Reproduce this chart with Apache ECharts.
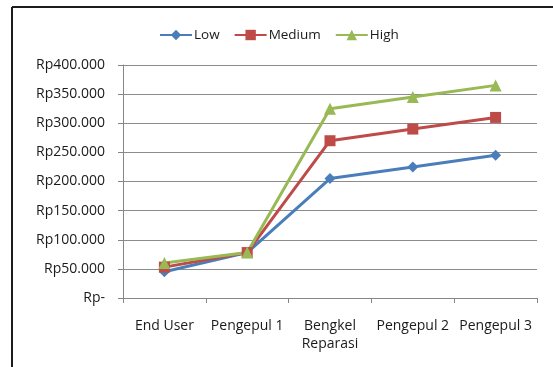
<!DOCTYPE html>
<html>
<head>
<meta charset="utf-8">
<script src="https://cdn.jsdelivr.net/npm/echarts@6/dist/echarts.min.js"></script>
<style>
html,body{margin:0;padding:0;background:#fff;}
#chart{width:553px;height:367px;}
</style>
</head>
<body>
<div id="chart"></div>
<script>
var categories = ["End User", "Pengepul 1", "Bengkel\nReparasi", "Pengepul 2", "Pengepul 3"];
var lowValues = [45000, 78000, 205000, 225000, 245000];
var mediumValues = [53000, 78000, 270000, 290000, 310000];
var highValues = [60000, 78000, 325000, 345000, 365000];
var yTickValues = [0, 50000, 100000, 150000, 200000, 250000, 300000, 350000, 400000];
var yTickLabels = ["Rp-", "Rp50.000", "Rp100.000", "Rp150.000", "Rp200.000", "Rp250.000", "Rp300.000", "Rp350.000", "Rp400.000"];

var FONT = "Open Sans";
var TXT = "#1a1a1a";
var chart = echarts.init(document.getElementById('chart'), null, {renderer: 'canvas'});
var option = {
  animation: false,
  backgroundColor: '#fff',
  textStyle: {fontFamily: FONT},
  graphic: [
    {type: 'line', shape: {x1: 12, y1: 7, x2: 553, y2: 7}, style: {stroke: '#1c1c1c', lineWidth: 2}},
    {type: 'line', shape: {x1: 12, y1: 7, x2: 12, y2: 367}, style: {stroke: '#1c1c1c', lineWidth: 2}}
  ],
  legend: {
    top: 23,
    left: 154,
    itemWidth: 32,
    itemHeight: 13,
    itemGap: 14,
    textStyle: {fontFamily: FONT, fontSize: 13.5, color: TXT, padding: [0, 0, 0, -3]},
    data: ['Low', 'Medium', 'High']
  },
  grid: {left: 123, right: 16, top: 65, bottom: 69, containLabel: false},
  xAxis: {
    type: 'category',
    data: categories,
    boundaryGap: true,
    axisLine: {lineStyle: {color: '#868686', width: 1}},
    axisTick: {show: true, length: 5, alignWithLabel: false, lineStyle: {color: '#868686'}},
    axisLabel: {fontFamily: FONT, fontSize: 14, color: TXT, margin: 19, lineHeight: 18, interval: 0}
  },
  yAxis: {
    type: 'value',
    min: 0,
    max: 400000,
    interval: 50000,
    axisLine: {show: true, lineStyle: {color: '#868686', width: 1}},
    axisTick: {show: true, length: 5, lineStyle: {color: '#868686'}},
    splitLine: {show: true, lineStyle: {color: '#8c8c8c', width: 1}},
    axisLabel: {
      fontFamily: FONT, fontSize: 14, color: TXT, margin: 18,
      formatter: function (v) {
        var i = yTickValues.indexOf(v);
        return i >= 0 ? yTickLabels[i] : '';
      }
    }
  },
  series: [
    {
      name: 'Low', type: 'line', data: lowValues,
      symbol: 'diamond', symbolSize: 11,
      lineStyle: {color: '#4A7EBB', width: 3},
      itemStyle: {color: '#4A7EBB'}
    },
    {
      name: 'Medium', type: 'line', data: mediumValues,
      symbol: 'rect', symbolSize: 11,
      lineStyle: {color: '#BE4B48', width: 3},
      itemStyle: {color: '#BE4B48'}
    },
    {
      name: 'High', type: 'line', data: highValues,
      symbol: 'triangle', symbolSize: 12,
      lineStyle: {color: '#98B954', width: 3},
      itemStyle: {color: '#98B954'}
    }
  ]
};
chart.setOption(option);
</script>
</body>
</html>
